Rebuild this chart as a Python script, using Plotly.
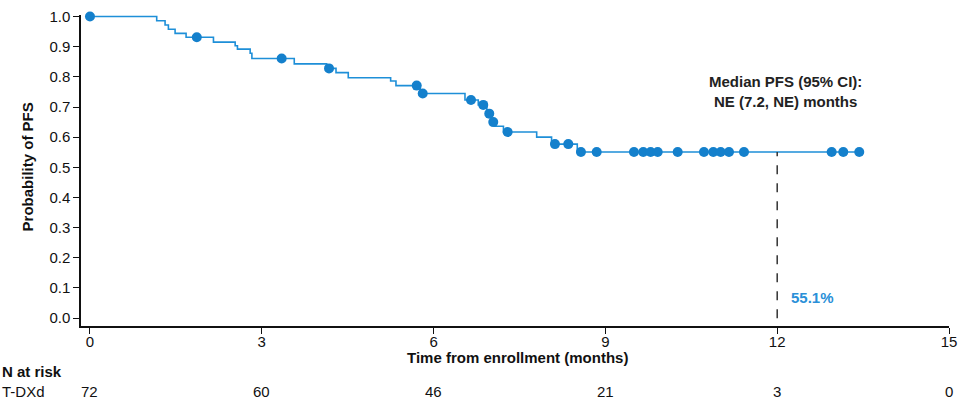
import plotly.graph_objects as go

# ---- data ----
event_times = [1.165, 1.311, 1.369, 1.486, 1.678, 2.156, 2.535, 2.575, 2.797, 2.827,
               3.567, 4.133, 4.296, 4.510, 5.250, 5.343, 5.767, 6.548, 6.780, 6.930,
               7.010, 7.070, 7.220, 7.800, 8.060, 8.509]
event_surv = [0.986, 0.972, 0.958, 0.944, 0.931, 0.915, 0.903, 0.892, 0.878, 0.861,
              0.843, 0.828, 0.814, 0.797, 0.786, 0.771, 0.745, 0.723, 0.707, 0.678,
              0.650, 0.636, 0.617, 0.600, 0.577, 0.551]
censor_times = [0.0, 1.865, 3.347, 4.174, 5.705, 5.810, 6.653, 6.867, 6.972, 7.042,
                7.293, 8.119, 8.352, 8.573, 8.848, 9.499, 9.661, 9.790, 9.913, 10.262,
                10.721, 10.884, 11.013, 11.158, 11.420, 12.951, 13.154, 13.433]
censor_surv = [1.0, 0.931, 0.861, 0.828, 0.771, 0.745, 0.723, 0.707, 0.678, 0.650,
               0.617, 0.577, 0.577, 0.551, 0.551, 0.551, 0.551, 0.551, 0.551, 0.551,
               0.551, 0.551, 0.551, 0.551, 0.551, 0.551, 0.551, 0.551]
risk_times = [0, 3, 6, 9, 12, 15]
risk_counts = [72, 60, 46, 21, 3, 0]
x_ticks = [0, 3, 6, 9, 12, 15]
y_ticks = [0.0, 0.1, 0.2, 0.3, 0.4, 0.5, 0.6, 0.7, 0.8, 0.9, 1.0]
landmark_time = 12
landmark_surv = 0.551

FONT = "Arial, Liberation Sans, sans-serif"
FS = 15
LINE_C = "#1e8fd8"
DOT_C = "#1480cc"

line_x = [0.0] + event_times + [censor_times[-1]]
line_y = [1.0] + event_surv + [event_surv[-1]]

fig = go.Figure()
fig.add_trace(go.Scatter(x=line_x, y=line_y, mode="lines", line_shape="hv",
                         line=dict(color=LINE_C, width=1.6), cliponaxis=False,
                         hoverinfo="skip", showlegend=False))
fig.add_trace(go.Scatter(x=censor_times, y=censor_surv, mode="markers",
                         marker=dict(color=DOT_C, size=10, line=dict(width=0)),
                         cliponaxis=False, showlegend=False))
# dashed landmark line
fig.add_trace(go.Scatter(x=[landmark_time, landmark_time], y=[0, landmark_surv], mode="lines",
                         line=dict(color="#333333", width=1.5, dash="dash"),
                         showlegend=False, hoverinfo="skip"))

annotations = [
    dict(x=12.14, y=0.752, xref="x", yref="y", text="<b>Median PFS (95% CI):<br>NE (7.2, NE) months</b>",
         xanchor="center", showarrow=False, font=dict(family=FONT, size=FS, color="#222222"), align="center"),
    dict(x=12.2, y=0.067, xref="x", yref="y", text="<b>55.1%</b>", xanchor="left",
         showarrow=False, font=dict(family=FONT, size=FS, color="#2a90d8")),
    dict(x=0.503, y=-0.1025, xref="paper", yref="paper", text="<b>Time from enrollment (months)</b>",
         xanchor="center", showarrow=False, font=dict(family=FONT, size=FS, color="#111111"), yanchor="middle"),
    dict(x=-0.0622, y=0.51, xref="paper", yref="paper", text="<b>Probability of PFS</b>",
         xanchor="center", yanchor="middle",
         textangle=-90, showarrow=False, font=dict(family=FONT, size=FS, color="#111111")),
    dict(x=-0.0933, y=-0.1447, xref="paper", yref="paper", text="<b>N at risk</b>", xanchor="left",
         yanchor="middle", showarrow=False, font=dict(family=FONT, size=FS, color="#111111")),
    dict(x=-0.0933, y=-0.212, xref="paper", yref="paper", text="T-DXd", xanchor="left",
         yanchor="middle", showarrow=False, font=dict(family=FONT, size=FS, color="#111111")),
]
for t, n in zip(risk_times, risk_counts):
    annotations.append(dict(x=t, y=-0.212, xref="x", yref="paper", text=str(n), yanchor="middle",
                            xanchor="center",
                            showarrow=False, font=dict(family=FONT, size=FS, color="#111111")))

fig.update_layout(
    width=960, height=405, autosize=False,
    margin=dict(l=81, r=11, t=15, b=79, pad=0),
    paper_bgcolor="white", plot_bgcolor="white",
    font=dict(family=FONT, size=FS, color="#111111"),
    annotations=annotations,
    xaxis=dict(range=[-0.157, 15.0], tickvals=x_ticks, ticks="outside", ticklen=6, tickwidth=1.3,
               tickcolor="#111111", showline=True, linecolor="#111111", linewidth=1.5,
               showgrid=False, zeroline=False, tickfont=dict(size=FS), automargin=False,
               ticklabelstandoff=-5),
    yaxis=dict(range=[-0.026, 1.005], tickvals=y_ticks, tickformat=".1f", ticks="outside", ticklen=6,
               tickwidth=1.3, tickcolor="#111111", showline=True, linecolor="#111111", linewidth=1.5,
               showgrid=False, zeroline=False, tickfont=dict(size=FS), automargin=False),
)
fig.write_html("out.html", config={"displayModeBar": False, "responsive": False})

# remove the default page margin so the figure sits at the window's top-left corner
with open("out.html", "r", encoding="utf-8") as f:
    html = f.read()
html = html.replace("<head>", "<head><style>html,body{margin:0;padding:0;overflow:hidden;}</style>", 1)
with open("out.html", "w", encoding="utf-8") as f:
    f.write(html)
